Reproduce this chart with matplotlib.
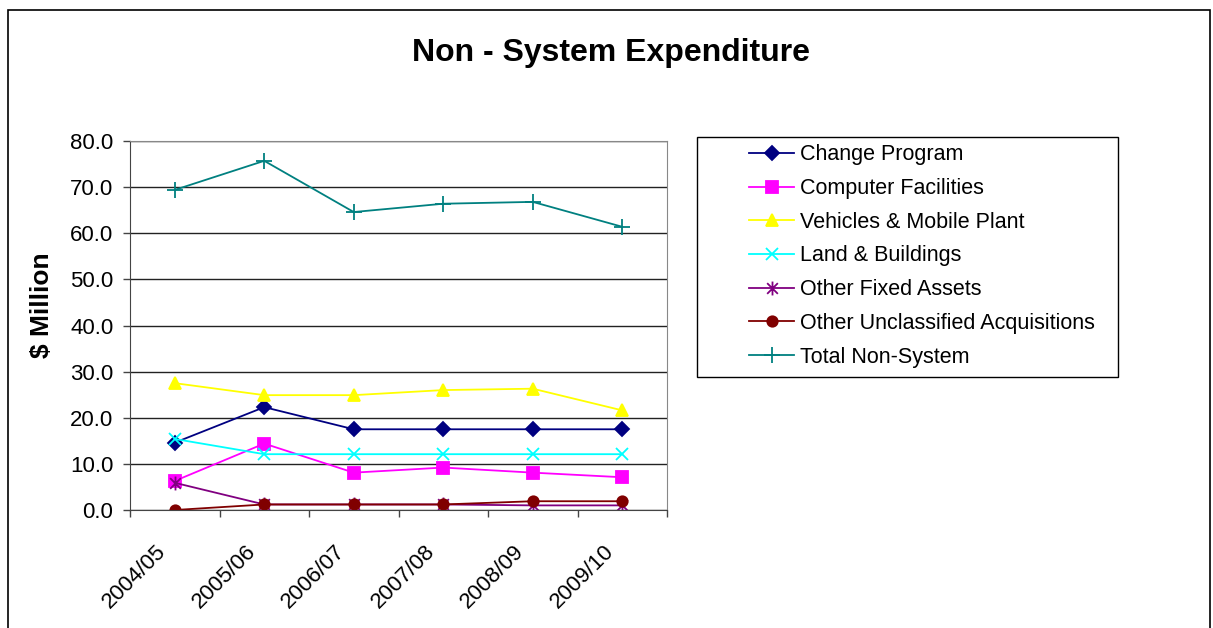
import matplotlib
matplotlib.use("Agg")
import matplotlib.pyplot as plt
import matplotlib.transforms as mtransforms
from matplotlib.path import Path
from matplotlib.patches import Rectangle

plt.rcParams["font.family"] = ["Liberation Sans", "DejaVu Sans"]

years = ["2004/05", "2005/06", "2006/07", "2007/08", "2008/09", "2009/10"]

change_program = [14.6, 22.3, 17.5, 17.5, 17.5, 17.5]
computer_facilities = [6.3, 14.4, 8.1, 9.2, 8.1, 7.1]
vehicles_mobile = [27.5, 24.9, 24.9, 26.0, 26.3, 21.6]
land_buildings = [15.4, 12.1, 12.1, 12.1, 12.1, 12.1]
other_fixed = [5.9, 1.2, 1.2, 1.2, 1.0, 1.0]
other_unclassified = [0.0, 1.2, 1.2, 1.2, 1.9, 1.9]
total_non_system = [69.4, 75.7, 64.6, 66.4, 66.8, 61.4]

# asterisk marker: an x with a vertical bar through it
asterisk = Path(
    [(-1, -1), (1, 1), (-1, 1), (1, -1), (0, -1.3), (0, 1.3)],
    [Path.MOVETO, Path.LINETO, Path.MOVETO, Path.LINETO, Path.MOVETO, Path.LINETO],
)

series = [
    ("Change Program", change_program, "#000080", "D", 7),
    ("Computer Facilities", computer_facilities, "#FF00FF", "s", 8),
    ("Vehicles & Mobile Plant", vehicles_mobile, "#FFFF00", "^", 9),
    ("Land & Buildings", land_buildings, "#00FFFF", "x", 9),
    ("Other Fixed Assets", other_fixed, "#800080", asterisk, 10),
    ("Other Unclassified Acquisitions", other_unclassified, "#800000", "o", 7.5),
    ("Total Non-System", total_non_system, "#008080", "+", 11),
]

W, H = 1213, 628
fig = plt.figure(figsize=(W / 100, H / 100), dpi=100)

# outer chart frame (open at the bottom edge of the image)
fig.patches.append(Rectangle((8 / W, -0.1), 1202 / W, 1.1 - 10 / H,
                             transform=fig.transFigure, fill=False,
                             edgecolor="black", linewidth=1.2))

ax = fig.add_axes([130 / W, 1 - 510 / H, 537 / W, 369 / H])

x = list(range(len(years)))
for name, vals, color, marker, ms in series:
    ax.plot(x, vals, color=color, marker=marker, markersize=ms, linewidth=1.3,
            markeredgewidth=1.3, label=name)

ax.set_xlim(-0.5, len(years) - 0.5)
ax.set_ylim(0, 80)
ax.set_yticks(range(0, 81, 10))
ax.set_yticklabels([f"{v:.1f}" for v in range(0, 81, 10)], fontsize=16)
ax.yaxis.grid(True, color="#222222", linewidth=1)
ax.set_axisbelow(True)

ax.set_xticks(x)
ax.set_xticklabels(years, rotation=45, ha="right", va="top",
                   rotation_mode="anchor", fontsize=16)
ax.tick_params(axis="x", length=0, pad=0)
shift = mtransforms.ScaledTranslation(-19 / 100, -31 / 100, fig.dpi_scale_trans)
for lbl in ax.get_xticklabels():
    lbl.set_transform(lbl.get_transform() + shift)

ax.set_xticks([i - 0.5 for i in range(len(years) + 1)], minor=True)
ax.tick_params(axis="x", which="minor", length=5, width=1, color="#444444")
ax.tick_params(axis="y", length=5, width=1, color="#444444", pad=7)

for side in ["top", "right"]:
    ax.spines[side].set_color("#888888")
ax.spines["left"].set_color("#444444")
ax.spines["bottom"].set_color("#444444")

fig.text(42 / W, 1 - 305 / H, "$ Million", rotation=90, ha="center", va="center",
         fontsize=19, fontweight="bold")

fig.text(611 / W, 1 - 53 / H, "Non - System Expenditure", ha="center", va="center",
         fontsize=23, fontweight="bold")

# legend box drawn separately so the entries can sit inset from its left edge
fig.patches.append(Rectangle((697 / W, 1 - 377 / H), 421 / W, 240 / H,
                             transform=fig.transFigure, fill=False,
                             edgecolor="black", linewidth=1))
leg = fig.legend(loc="center left", bbox_to_anchor=(749 / W, 1 - 256 / H),
                 fontsize=15.5, frameon=False, handlelength=2.1,
                 labelspacing=0.59, borderpad=0, borderaxespad=0,
                 handletextpad=0.28)

fig.savefig("out.png", dpi=100)
